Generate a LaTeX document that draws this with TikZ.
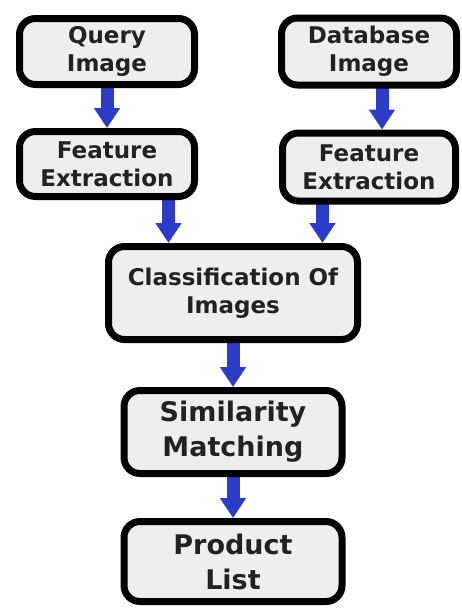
\documentclass[tikz,border=0pt]{standalone}
\usepackage{fontspec}
\setsansfont{DejaVu Sans}
\usetikzlibrary{arrows.meta, backgrounds, positioning}
\definecolor{boxfill}{HTML}{EEEEEE}
\definecolor{boxtext}{HTML}{222222}
\definecolor{arrowblue}{HTML}{2A3CC8}

\begin{document}
\begin{tikzpicture}[x=1pt, y=-1pt]
\tikzset{every node/.style={inner sep=0pt, outer sep=0pt}}

\tikzstyle{stage}=[rectangle, rounded corners=16pt, draw=black, fill=boxfill, line width=7pt, text=boxtext, align=center, font=\sffamily\bfseries\fontsize{23}{28}\selectfont]
\tikzstyle{big stage}=[stage, font=\sffamily\bfseries\fontsize{27}{35}\selectfont]
\tikzstyle{flow}=[-{Triangle[width=25pt,length=20pt]}, line width=13pt, draw=arrowblue, shorten >=3.5pt]

\useasboundingbox (0,0) rectangle (461,608);

\node[stage, minimum width=175pt, minimum height=66pt] (query input) at (107,51.5) {Query\\Image};
\node[stage, minimum width=175pt, minimum height=67pt, right=87pt of query input] (database input) {Database\\Image};

\node[stage, minimum width=175pt, minimum height=65pt, below=47pt of query input] (feat left) {Feature\\Extraction};
\node[stage, minimum width=173pt, minimum height=68pt, below=48pt of database input] (feat right) {Feature\\Extraction};

\node[stage, minimum width=249pt, minimum height=93pt, below right=50pt and -86pt of feat left] (classification) {Classification Of\\Images};

\node[big stage, minimum width=218pt, minimum height=83pt, below=51pt of classification] (similarity) {Similarity\\Matching};
\node[big stage, minimum width=218pt, minimum height=80pt, below=48pt of similarity] (product list) {Product\\List};

% blue arrows behind the boxes
\begin{scope}[on background layer]
    \draw[flow] (query input.south) -- (query input.south |- feat left.north);
    \draw[flow] ([xshift=13pt]database input.south) -- ([xshift=13pt]database input.south |- feat right.north);
    \draw[flow] ([xshift=-26pt]feat left.south east) -- ([xshift=-26pt]feat left.south east |- classification.north);
    \draw[flow] ([xshift=40pt]feat right.south west) -- ([xshift=40pt]feat right.south west |- classification.north);
    \draw[flow] (classification) -- (similarity);
    \draw[flow] (similarity) -- (product list);
\end{scope}

\end{tikzpicture}
\end{document}
